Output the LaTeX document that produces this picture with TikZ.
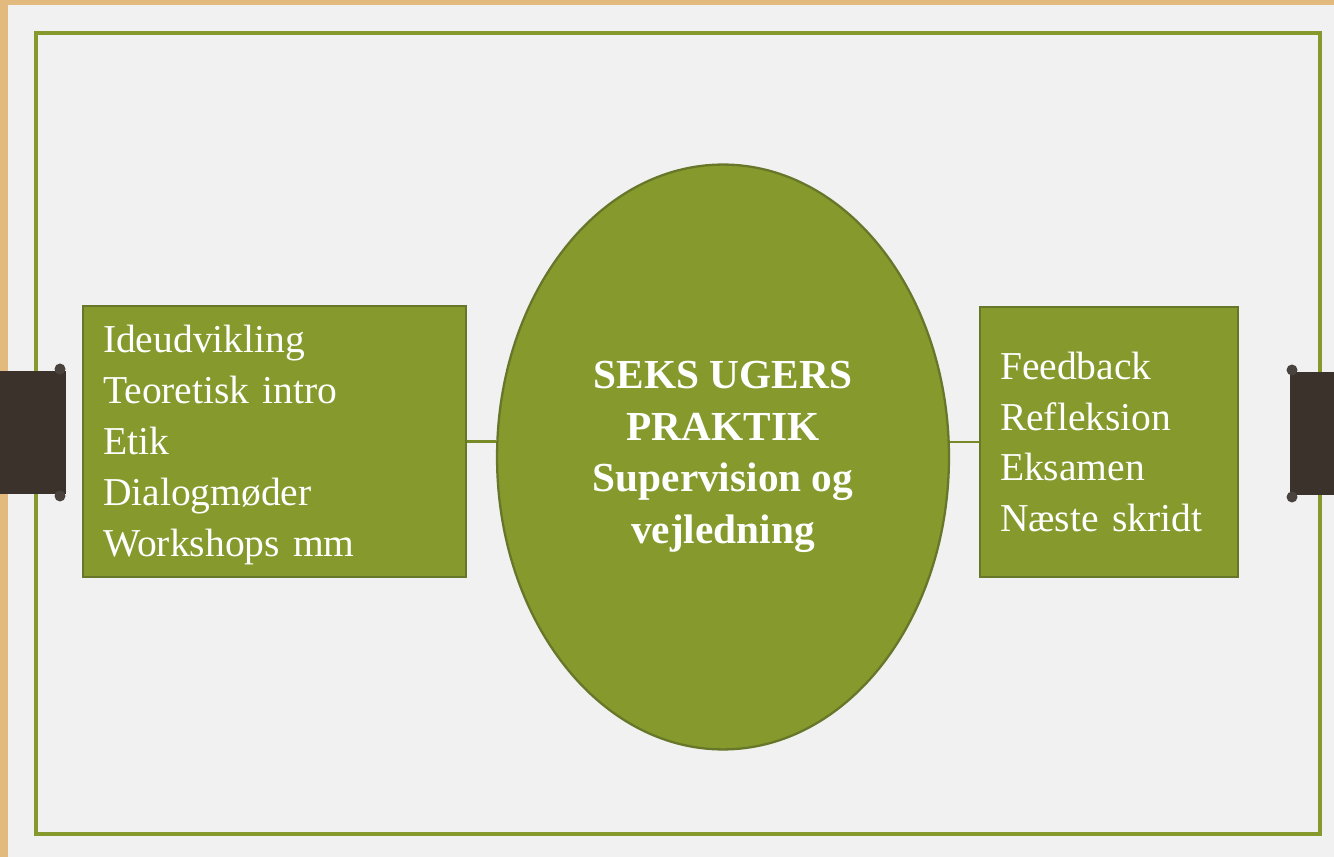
\documentclass[tikz,border=0pt]{standalone}
\usepackage{fontspec}
\setmainfont{Liberation Serif}
\usepackage{tikz}
\usetikzlibrary{shapes.geometric}
\usepackage{xcolor}
\definecolor{olive}{HTML}{85992D}
\definecolor{darkolive}{HTML}{66772A}
\definecolor{tan}{HTML}{E2BA7E}
\definecolor{paper}{HTML}{F1F1F1}
\definecolor{strap}{HTML}{3A322B}

\begin{document}
\begin{tikzpicture}[x=0.02cm,y=-0.02cm]
% page and frame
\fill[tan] (0,0) rectangle (1334,857);
\fill[paper] (8,5) rectangle (1334,857);
\draw[line width=2.2pt,color=olive] (36,33) rectangle (1320,834);

\tikzstyle{ibox}=[rectangle,fill=olive,draw=darkolive,line width=1.1pt,text=white,align=left,inner xsep=0.4cm,font=\fontsize{22.5}{29}\selectfont]
\tikzstyle{itext}=[text=white,align=left,inner sep=0pt,font=\fontsize{22.5}{29}\selectfont]
\tikzstyle{hub}=[ellipse,fill=olive,draw=darkolive,line width=1.3pt,text=white,align=center,inner sep=0pt,minimum width=9.04cm,minimum height=11.7cm,font=\bfseries\fontsize{23.5}{29.3}\selectfont]

\node[ibox,minimum width=7.66cm,minimum height=5.42cm] (before) at (274.5,441.5) {};
\node[itext,text width=6.86cm] (beforelist) at (274.5,445)
  {Ideudvikling\\Teoretisk intro\\Etik\\Dialogmøder\\Workshops mm};
\node[hub] (praktik) at (723,457)
  {SEKS UGERS\\PRAKTIK\\Supervision og\\vejledning};
\node[ibox,minimum width=5.16cm,minimum height=5.4cm,text width=4.36cm] (after) at (1109,442)
  {Feedback\\Refleksion\\Eksamen\\Næste skridt};

\draw[line width=1.3pt,color=olive!90!black] (before.east) -- (praktik.west |- before.east);
\draw[line width=1.3pt,color=olive!90!black] (praktik.east |- after.west) -- (after.west);

% straps at the sides
\fill[strap] (0,371) rectangle (66,494);
\fill[strap!92!white] (60,369) circle (5.5);
\fill[strap!92!white] (60,496) circle (5.5);
\fill[strap] (1290,372) rectangle (1334,495);
\fill[strap!92!white] (1292,370) circle (5.5);
\fill[strap!92!white] (1292,497) circle (5.5);
\end{tikzpicture}
\end{document}
